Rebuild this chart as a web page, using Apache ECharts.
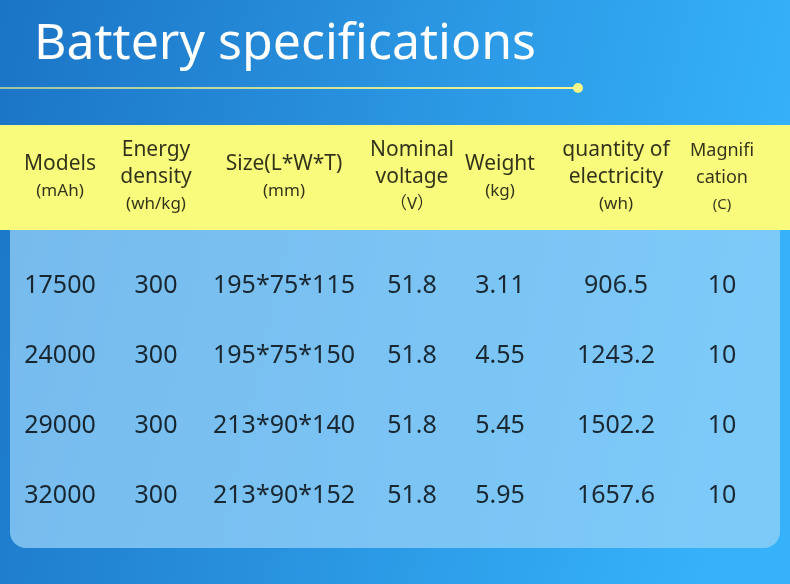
<!DOCTYPE html>
<html><head><meta charset="utf-8">
<script src="https://cdn.jsdelivr.net/npm/echarts@6/dist/echarts.min.js"></script>
<style>html,body{margin:0;padding:0;}#c{width:790px;height:584px;}</style>
</head><body><div id="c"></div>
<script>
const title = "Battery specifications";
const headers = [
  ["Models","(mAh)"],
  ["Energy","density","(wh/kg)"],
  ["Size(L*W*T)","(mm)"],
  ["Nominal","voltage","（V）"],
  ["Weight","(kg)"],
  ["quantity of","electricity","(wh)"],
  ["Magnifi","cation","(C)"]
];
const models = ["17500","24000","29000","32000"];
const energyDensity = ["300","300","300","300"];
const sizes = ["195*75*115","195*75*150","213*90*140","213*90*152"];
const voltage = ["51.8","51.8","51.8","51.8"];
const weight = ["3.11","4.55","5.45","5.95"];
const electricity = ["906.5","1243.2","1502.2","1657.6"];
const magnification = ["10","10","10","10"];
const columns = [models, energyDensity, sizes, voltage, weight, electricity, magnification];
// layout (column centers in px)
const colX = [60,156,284,412,500,616,722];

const FONT = "'Noto Sans', 'Noto Sans CJK SC', sans-serif";
const rowCats = models.map((m,i)=>"r"+i);
const bodyData = [];
columns.forEach((col,ci)=>col.forEach((v,ri)=>bodyData.push({value:[colX[ci], rowCats[ri]], txt:v})));
const headData = headers.map((h,ci)=>({value:[colX[ci],"h"], lines:h, small: ci===6}));

const chart = echarts.init(document.getElementById('c'));
chart.setOption({
  backgroundColor: {type:'linear',x:0,y:0,x2:1,y2:0.3,colorStops:[{offset:0,color:'#1b74c6'},{offset:0.6,color:'#2c9ae6'},{offset:1,color:'#35b2fa'}]},
  graphic: [
    {type:'rect', shape:{x:10,y:225,width:770,height:323,r:[0,0,16,16]}, style:{fill:'rgba(150,210,248,0.75)'}, z:0},
    {type:'rect', shape:{x:0,y:125,width:790,height:105}, style:{fill:'#f8fb7c'}, z:1},
    {type:'line', shape:{x1:0,y1:88,x2:578,y2:88}, style:{stroke:{type:'linear',x:0,y:0,x2:1,y2:0,colorStops:[{offset:0,color:'rgba(245,245,140,0.6)'},{offset:1,color:'#f4f68a'}]},lineWidth:2}, z:2},
    {type:'circle', shape:{cx:578,cy:88,r:5}, style:{fill:'#f4f68a'}, z:2},
    {type:'text', x:34, y:45, style:{text:title, fill:'#fff', font:'50px '+FONT, verticalAlign:'middle'}, z:2}
  ],
  grid: [
    {left:0,right:0,top:125,height:105},
    {left:0,right:0,top:251,height:280}
  ],
  xAxis: [
    {type:'value',min:0,max:790,show:false,gridIndex:0},
    {type:'value',min:0,max:790,show:false,gridIndex:1}
  ],
  yAxis: [
    {type:'category',data:["h"],show:false,gridIndex:0},
    {type:'category',data:rowCats,inverse:true,show:false,gridIndex:1}
  ],
  series: [
    {type:'scatter',xAxisIndex:0,yAxisIndex:0,symbolSize:0,data:headData,z:5,
     label:{show:true,position:'inside',align:'center',verticalAlign:'middle',color:'#000',fontFamily:FONT,
       formatter:p=>{const d=p.data;const n=d.lines.length;
         return d.lines.map((l,i)=>{const unit=(i===n-1);return '{'+(d.small?(unit?'s':'m'):(unit?'u':'t'))+'|'+l+'}';}).join('\n');},
       rich:{t:{fontSize:21,lineHeight:27,color:'#000',fontFamily:FONT},u:{fontSize:17,lineHeight:27,color:'#000',fontFamily:FONT},
             m:{fontSize:18,lineHeight:27,color:'#000',fontFamily:FONT},s:{fontSize:15,lineHeight:27,color:'#000',fontFamily:FONT}}}},
    {type:'scatter',xAxisIndex:1,yAxisIndex:1,symbolSize:0,data:bodyData,z:5,
     label:{show:true,position:'inside',align:'center',verticalAlign:'middle',color:'#000',fontSize:25,fontFamily:FONT,
       formatter:p=>p.data.txt}}
  ]
});
</script></body></html>
